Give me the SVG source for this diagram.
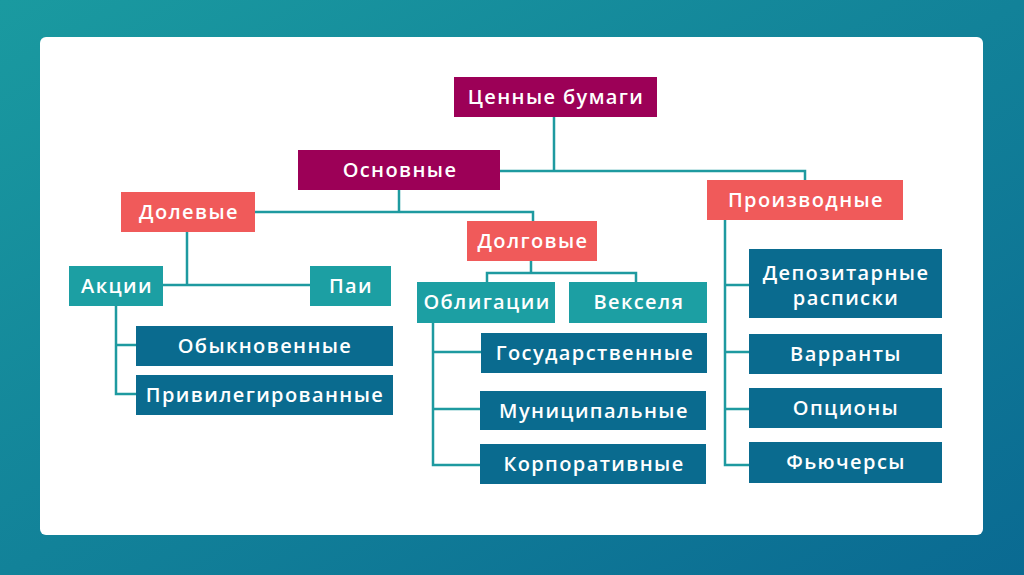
<svg xmlns="http://www.w3.org/2000/svg" width="1024" height="575" viewBox="0 0 1024 575">
<defs>
<linearGradient id="bg" x1="0" y1="0" x2="1" y2="1">
<stop offset="0" stop-color="#1a9aa0"/>
<stop offset="1" stop-color="#0a6a92"/>
</linearGradient>
<style>
text{font-family:"Open Sans","DejaVu Sans",sans-serif;font-weight:600;font-size:20px;letter-spacing:1.4px;fill:#ffffff;text-anchor:middle}
.m{fill:#9c0057}
.c{fill:#f05a5a}
.t{fill:#1c9fa3}
.b{fill:#0a6b8f}
#connectors path{fill:none;stroke:#1e9aa0;stroke-width:2.5}
</style>
</defs>
<rect width="1024" height="575" fill="url(#bg)"/>
<rect x="40" y="37" width="943" height="498" rx="6" fill="#ffffff"/>
<g id="connectors">
<path d="M554 117V171M500 171H805V180"/>
<path d="M399 190V212M255 212H533V221"/>
<path d="M187 232V285M163 285H310"/>
<path d="M116 306V394H136M116 345H136"/>
<path d="M531 261V273M487 282V273H636V282"/>
<path d="M433 323V465H480M433 352H481M433 409H480"/>
<path d="M725 220V465H749M725 285H749M725 352H749M725 409H749"/>
</g>
<g id="n-root"><rect class="m" x="454" y="77" width="203" height="40"/><text x="556" y="104">Ценные бумаги</text></g>
<g id="n-osn"><rect class="m" x="298" y="150" width="202" height="40"/><text x="400" y="177">Основные</text></g>
<g id="n-proizv"><rect class="c" x="707" y="180" width="196" height="40"/><text x="806" y="207">Производные</text></g>
<g id="n-dol"><rect class="c" x="121" y="192" width="134" height="40"/><text x="189" y="219">Долевые</text></g>
<g id="n-dolg"><rect class="c" x="467" y="221" width="130" height="40"/><text x="533" y="248">Долговые</text></g>
<g id="n-akcii"><rect class="t" x="69" y="266" width="94" height="40"/><text x="117" y="293">Акции</text></g>
<g id="n-pai"><rect class="t" x="310" y="266" width="81" height="40"/><text x="351" y="293">Паи</text></g>
<g id="n-obyk"><rect class="b" x="136" y="326" width="257" height="40"/><text x="265" y="353">Обыкновенные</text></g>
<g id="n-priv"><rect class="b" x="136" y="375" width="257" height="40"/><text x="265" y="402">Привилегированные</text></g>
<g id="n-obl"><rect class="t" x="417" y="282" width="138" height="41"/><text x="487" y="309">Облигации</text></g>
<g id="n-veks"><rect class="t" x="569" y="282" width="138" height="41"/><text x="639" y="309">Векселя</text></g>
<g id="n-gos"><rect class="b" x="481" y="333" width="226" height="40"/><text x="595" y="360">Государственные</text></g>
<g id="n-mun"><rect class="b" x="480" y="391" width="226" height="39"/><text x="594" y="418">Муниципальные</text></g>
<g id="n-korp"><rect class="b" x="480" y="444" width="226" height="40"/><text x="594" y="471">Корпоративные</text></g>
<g id="n-dep"><rect class="b" x="749" y="249" width="193" height="69"/><text x="846" y="280">Депозитарные</text><text x="846" y="305">расписки</text></g>
<g id="n-var"><rect class="b" x="749" y="334" width="193" height="40"/><text x="846" y="361">Варранты</text></g>
<g id="n-opc"><rect class="b" x="749" y="388" width="193" height="40"/><text x="846" y="415">Опционы</text></g>
<g id="n-fut"><rect class="b" x="749" y="442" width="193" height="41"/><text x="846" y="469">Фьючерсы</text></g>
</svg>
